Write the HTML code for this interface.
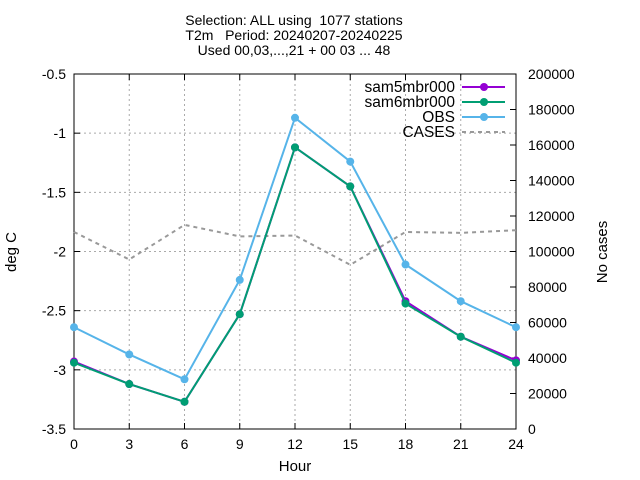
<!DOCTYPE html>
<html><head><meta charset="utf-8"><style>
body{margin:0;background:#fff}
svg{display:block;font-family:"Liberation Sans",sans-serif}
text{white-space:pre}
</style></head><body>
<svg id="c" width="640" height="480">
<rect width="640" height="480" fill="#fff"/>
<g font-size="14" text-anchor="middle">
<text x="294" y="25">Selection: ALL using  1077 stations</text>
<text x="294" y="40">T2m   Period: 20240207-20240225</text>
<text x="294" y="55">Used 00,03,...,21 + 00 03 ... 48</text>
</g>
<g id="grid"></g><g id="axes"></g><g id="series"></g>
<text x="16" y="252" font-size="15" text-anchor="middle" transform="rotate(-90 16 252)">deg C</text>
<text x="607" y="252" font-size="15" text-anchor="middle" transform="rotate(-90 607 252)">No cases</text>
<text x="295" y="471" font-size="15" text-anchor="middle">Hour</text>
<g id="legend" font-size="15.5"></g>
</svg>
<script>
const hours=[0,3,6,9,12,15,18,21,24];
const sam5=[-2.93,-3.12,-3.27,-2.53,-1.12,-1.45,-2.42,-2.72,-2.92];
const sam6=[-2.94,-3.12,-3.27,-2.53,-1.12,-1.45,-2.44,-2.72,-2.94];
const obs=[-2.64,-2.87,-3.08,-2.24,-0.87,-1.24,-2.11,-2.42,-2.64];
const cases=[111000,95500,115000,108500,109000,92500,111000,110500,112000];
const yTicks=[-0.5,-1,-1.5,-2,-2.5,-3,-3.5];
const y2Ticks=[0,20000,40000,60000,80000,100000,120000,140000,160000,180000,200000];
const xTicks=[0,3,6,9,12,15,18,21,24];
const L=74,R=516,T=74,B=429;
const X=h=>L+(h-0)/24*(R-L);
const Y=v=>T+(-0.5-v)/3*(B-T);
const Y2=v=>B-v/200000*(B-T);
const NS="http://www.w3.org/2000/svg";
function mk(p,t,a){const e=document.createElementNS(NS,t);for(const k in a)e.setAttribute(k,a[k]);p.appendChild(e);return e;}
const grid=document.getElementById('grid'),axes=document.getElementById('axes'),ser=document.getElementById('series'),leg=document.getElementById('legend');
xTicks.forEach(h=>{const x=X(h);
 if(h>0&&h<24){const g=mk(grid,'line',{x1:x,x2:x,y1:T,y2:B,stroke:'#aaa','stroke-dasharray':'2,3','stroke-width':1});
 
 }
 const t=mk(axes,'text',{x:x,y:B+20,'font-size':14,'text-anchor':'middle'});t.textContent=h;
 
 
 mk(axes,'line',{x1:x,x2:x,y1:B,y2:B-6,stroke:'#000'});mk(axes,'line',{x1:x,x2:x,y1:T,y2:T+6,stroke:'#000'});
});
yTicks.forEach(v=>{const y=Y(v);
 if(v>-3.5&&v<-0.5){const g=mk(grid,'line',{x1:L,x2:R,y1:y,y2:y,stroke:'#aaa','stroke-dasharray':'2,3'});
 
 }
 const t=mk(axes,'text',{x:L-8,y:y+5,'font-size':14,'text-anchor':'end'});t.textContent=v;
 
 
 mk(axes,'line',{x1:L,x2:L+6,y1:y,y2:y,stroke:'#000'});
});
y2Ticks.forEach(v=>{const y=Y2(v);
 const t=mk(axes,'text',{x:R+12,y:y+5,'font-size':14,'text-anchor':'start'});t.textContent=v;
 
 
 mk(axes,'line',{x1:R-6,x2:R,y1:y,y2:y,stroke:'#000'});
});
const fr=mk(axes,'rect',{x:L,y:T,width:R-L,height:B-T,fill:'none',stroke:'#000'});


function line(vals,fy,color,name,dash,pts){
 const d=vals.map((v,i)=>(i?'L':'M')+X(hours[i])+','+fy(v)).join('');
 const p=mk(ser,'path',{d:d,fill:'none',stroke:color,'stroke-width':2});
 if(dash)p.setAttribute('stroke-dasharray',dash);
 
 
 if(pts)vals.forEach((v,i)=>{const c=mk(ser,'circle',{cx:X(hours[i]),cy:fy(v),r:4,fill:color});
 
 });
}
line(cases,Y2,'#999',"cases",'4,4',false);
line(sam5,Y,'#9400d3',"sam5mbr000",null,true);
line(sam6,Y,'#009e73',"sam6mbr000",null,true);
line(obs,Y,'#56b4e9',"obs",null,true);
[['sam5mbr000','#9400d3',0],['sam6mbr000','#009e73',0],['OBS','#56b4e9',0],['CASES','#999',1]].forEach((e,i)=>{
 const y=87+i*15;
 const t=mk(leg,'text',{x:455,y:y+5,'text-anchor':'end'});t.textContent=e[0];
 
 
 const l=mk(leg,'line',{x1:462,x2:505,y1:y,y2:y,stroke:e[1],'stroke-width':2});
 if(e[2])l.setAttribute('stroke-dasharray','4,4');
 else mk(leg,'circle',{cx:484,cy:y,r:4,fill:e[1]});
});
</script>
</body></html>
